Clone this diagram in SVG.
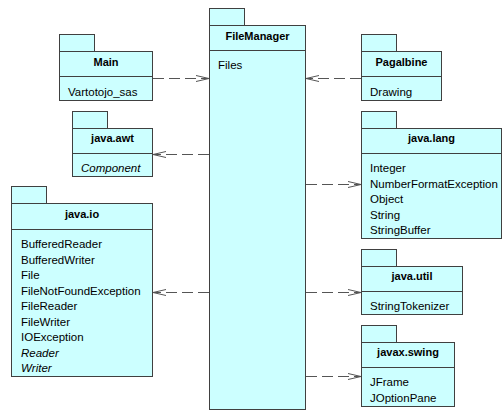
<svg xmlns="http://www.w3.org/2000/svg" width="503" height="412" viewBox="0 0 503 412">
  <style>
    .pk { fill: #ccffff; stroke: #404040; stroke-width: 1; }
    .sep { stroke: #404040; stroke-width: 1; }
    .title { font-family: "Liberation Sans", Arial, sans-serif; font-size: 11px; font-weight: bold; fill: #000; text-anchor: middle; }
    .item { font-family: "Liberation Sans", Arial, sans-serif; font-size: 11.5px; fill: #000; }
    .abs { font-style: italic; }
    .dep { stroke: #555555; stroke-width: 1; stroke-dasharray: 11 5; fill: none; marker-end: url(#open); }
  </style>
  <defs>
    <marker id="open" viewBox="0 0 14 8" refX="13" refY="4" markerWidth="14" markerHeight="8" markerUnits="userSpaceOnUse" orient="auto">
      <path d="M0,1 L13,4 L0,7" fill="none" stroke="#555555" stroke-width="1"/>
    </marker>
  </defs>

  <!-- FileManager -->
  <g id="FileManager">
    <rect class="pk" x="209.5" y="8.5" width="35" height="17"/>
    <rect class="pk" x="209.5" y="25.5" width="96" height="384"/>
    <line class="sep" x1="209.5" y1="50.5" x2="305.5" y2="50.5"/>
    <text class="title" x="257.5" y="40">FileManager</text>
    <text class="item" x="218" y="69">Files</text>
  </g>

  <!-- Main -->
  <g id="Main">
    <rect class="pk" x="59.5" y="34.5" width="35" height="17"/>
    <rect class="pk" x="59.5" y="51.5" width="93" height="49"/>
    <line class="sep" x1="59.5" y1="76.5" x2="152.5" y2="76.5"/>
    <text class="title" x="106" y="66">Main</text>
    <text class="item" x="68" y="96">Vartotojo_sas</text>
  </g>

  <!-- java.awt -->
  <g id="java_awt">
    <rect class="pk" x="72.5" y="111.5" width="35" height="17"/>
    <rect class="pk" x="72.5" y="128.5" width="80" height="48"/>
    <line class="sep" x1="72.5" y1="153.5" x2="152.5" y2="153.5"/>
    <text class="title" x="112.5" y="142">java.awt</text>
    <text class="item abs" x="81" y="172">Component</text>
  </g>

  <!-- java.io -->
  <g id="java_io">
    <rect class="pk" x="11.5" y="186.5" width="35" height="17"/>
    <rect class="pk" x="11.5" y="203.5" width="141" height="173"/>
    <line class="sep" x1="11.5" y1="229.5" x2="152.5" y2="229.5"/>
    <text class="title" x="82" y="218">java.io</text>
    <text class="item" x="21" y="248">BufferedReader</text>
    <text class="item" x="21" y="263.5">BufferedWriter</text>
    <text class="item" x="21" y="279">File</text>
    <text class="item" x="21" y="294.5">FileNotFoundException</text>
    <text class="item" x="21" y="310">FileReader</text>
    <text class="item" x="21" y="325.5">FileWriter</text>
    <text class="item" x="21" y="341">IOException</text>
    <text class="item abs" x="21" y="356.5">Reader</text>
    <text class="item abs" x="21" y="372">Writer</text>
  </g>

  <!-- Pagalbine -->
  <g id="Pagalbine">
    <rect class="pk" x="361.5" y="34.5" width="35" height="17"/>
    <rect class="pk" x="361.5" y="51.5" width="80" height="49"/>
    <line class="sep" x1="361.5" y1="76.5" x2="441.5" y2="76.5"/>
    <text class="title" x="401.5" y="66">Pagalbine</text>
    <text class="item" x="370" y="96">Drawing</text>
  </g>

  <!-- java.lang -->
  <g id="java_lang">
    <rect class="pk" x="361.5" y="111.5" width="35" height="17"/>
    <rect class="pk" x="361.5" y="128.5" width="140" height="110"/>
    <line class="sep" x1="361.5" y1="153.5" x2="501.5" y2="153.5"/>
    <text class="title" x="431.5" y="142">java.lang</text>
    <text class="item" x="370" y="172">Integer</text>
    <text class="item" x="370" y="187.5">NumberFormatException</text>
    <text class="item" x="370" y="203">Object</text>
    <text class="item" x="370" y="218.5">String</text>
    <text class="item" x="370" y="234">StringBuffer</text>
  </g>

  <!-- java.util -->
  <g id="java_util">
    <rect class="pk" x="361.5" y="249.5" width="35" height="17"/>
    <rect class="pk" x="361.5" y="266.5" width="101" height="48"/>
    <line class="sep" x1="361.5" y1="291.5" x2="462.5" y2="291.5"/>
    <text class="title" x="412" y="280">java.util</text>
    <text class="item" x="370" y="310">StringTokenizer</text>
  </g>

  <!-- javax.swing -->
  <g id="javax_swing">
    <rect class="pk" x="361.5" y="325.5" width="35" height="17"/>
    <rect class="pk" x="361.5" y="342.5" width="93" height="64"/>
    <line class="sep" x1="361.5" y1="367.5" x2="454.5" y2="367.5"/>
    <text class="title" x="408" y="356">javax.swing</text>
    <text class="item" x="370" y="386">JFrame</text>
    <text class="item" x="370" y="401.5">JOptionPane</text>
  </g>

  <!-- dependencies -->
  <g id="connectors">
    <line class="dep" x1="153" y1="78.5" x2="209" y2="78.5"/>
    <line class="dep" x1="209" y1="154.5" x2="153" y2="154.5"/>
    <line class="dep" x1="209" y1="292.5" x2="153" y2="292.5"/>
    <line class="dep" x1="361" y1="78.5" x2="306" y2="78.5"/>
    <line class="dep" x1="306" y1="184.5" x2="361" y2="184.5"/>
    <line class="dep" x1="306" y1="292.5" x2="361" y2="292.5"/>
    <line class="dep" x1="306" y1="376.5" x2="361" y2="376.5"/>
  </g>
</svg>
